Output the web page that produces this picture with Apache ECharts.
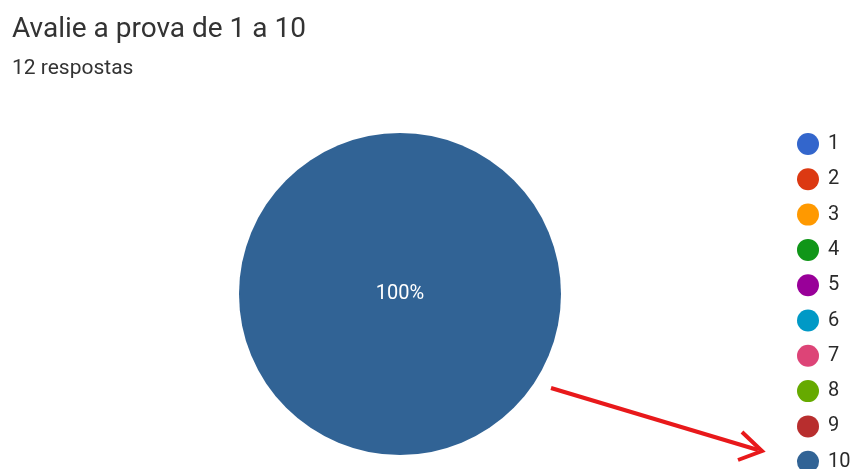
<!DOCTYPE html>
<html>
<head>
<meta charset="utf-8">
<script src="https://cdn.jsdelivr.net/npm/echarts@6/dist/echarts.min.js"></script>
<style>
html,body{margin:0;padding:0;background:#fff;}
#chart{width:858px;height:469px;}
</style>
</head>
<body>
<div id="chart"></div>
<script>
const categories = ['1','2','3','4','5','6','7','8','9','10'];
const counts = [0,0,0,0,0,0,0,0,0,12];
const colors = ['#3366cc','#dc3912','#ff9900','#109618','#990099','#0099c6','#dd4477','#66aa00','#b82e2e','#316395'];
const titleText = 'Avalie a prova de 1 a 10';
const subtitleText = '12 respostas';

const chart = echarts.init(document.getElementById('chart'));
chart.setOption({
  animation: false,
  color: colors,
  title: {
    text: titleText,
    subtext: subtitleText,
    left: 7,
    top: 11,
    itemGap: 14,
    textStyle: {fontFamily: 'Roboto', fontSize: 28, fontWeight: 'normal', color: '#333'},
    subtextStyle: {fontFamily: 'Roboto', fontSize: 21, color: '#333'}
  },
  legend: {
    orient: 'vertical',
    left: 797,
    top: 133,
    height: 340,
    icon: 'circle',
    itemWidth: 22,
    itemHeight: 22,
    itemGap: 13.3,
    padding: 0,
    textStyle: {fontFamily: 'Roboto', fontSize: 20, color: '#2a2a2a', padding: [0,0,0,4]},
    data: categories
  },
  series: [{
    type: 'pie',
    center: [400, 294],
    radius: [0, 161],
    startAngle: 90,
    data: categories.map((c, i) => ({name: c, value: counts[i]})),
    label: {
      position: 'center',
      color: '#fff',
      fontFamily: 'Roboto',
      fontSize: 20,
      padding: [6, 0, 0, 0],
      formatter: p => p.value > 0 ? p.percent + '%' : ''
    },
    labelLine: {show: false},
    itemStyle: {borderWidth: 0},
    emphasis: {disabled: true}
  }],
  graphic: [
    {type: 'line', shape: {x1: 551, y1: 388, x2: 758, y2: 450}, style: {stroke: '#e8191b', lineWidth: 4}},
    {type: 'polyline', shape: {points: [[742, 432], [762, 451], [738, 460]]}, style: {stroke: '#e8191b', lineWidth: 4, fill: null}}
  ]
});
</script>
</body>
</html>
